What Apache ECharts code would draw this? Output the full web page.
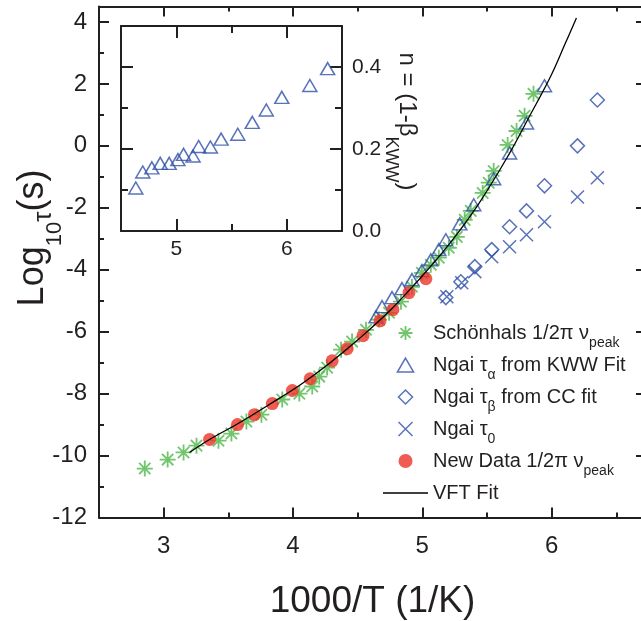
<!DOCTYPE html>
<html><head><meta charset="utf-8">
<script src="https://cdn.jsdelivr.net/npm/echarts@6/dist/echarts.min.js"></script>
<style>html,body{margin:0;padding:0;background:#fff}#c{width:641px;height:621px}</style>
</head><body><div id="c"></div>
<script>
// ---- data ----
const schonhalsX = [2.854,3.031,3.154,3.254,3.424,3.524,3.640,3.756,3.917,4.049,4.149,4.203,4.264,4.372,4.457,4.565,4.665,4.743,4.835,4.920,4.997,5.066,5.128,5.205,5.267,5.328,5.375,5.467,5.514,5.552,5.660,5.729,5.791,5.860];
const schonhalsY = [-10.42,-10.13,-9.90,-9.68,-9.52,-9.29,-8.90,-8.68,-8.19,-8.00,-7.77,-7.45,-7.16,-6.58,-6.32,-5.94,-5.61,-5.39,-5.03,-4.55,-4.10,-3.84,-3.61,-3.29,-2.94,-2.39,-2.10,-1.52,-1.19,-0.81,0.03,0.48,0.97,1.68];
const kwwX = [4.642,4.689,4.766,4.843,4.920,4.997,5.066,5.128,5.182,5.290,5.398,5.552,5.675,5.806,5.945];
const kwwY = [-5.52,-5.19,-4.90,-4.61,-4.32,-4.03,-3.68,-3.35,-3.03,-2.52,-1.90,-1.06,-0.23,0.74,1.94];
const ccX = [5.182,5.298,5.406,5.537,5.675,5.806,5.945,6.200,6.354];
const ccY = [-4.90,-4.39,-3.90,-3.35,-2.61,-2.10,-1.29,0.00,1.48];
const tau0X = [5.190,5.305,5.406,5.537,5.675,5.806,5.945,6.200,6.354];
const tau0Y = [-4.87,-4.42,-4.06,-3.58,-3.26,-2.87,-2.45,-1.65,-1.03];
const newX = [3.355,3.571,3.702,3.840,3.995,4.133,4.303,4.419,4.542,4.673,4.773,4.897,5.028];
const newY = [-9.48,-9.00,-8.68,-8.32,-7.90,-7.52,-6.94,-6.55,-6.13,-5.65,-5.29,-4.74,-4.29];
const vftX = [3.200,3.355,3.586,3.817,4.049,4.280,4.511,4.742,4.974,5.205,5.436,5.668,5.822,5.991,6.107,6.192];
const vftY = [-9.90,-9.48,-8.94,-8.35,-7.74,-7.03,-6.23,-5.35,-4.32,-3.19,-1.87,-0.29,0.90,2.23,3.32,4.13];
const insetX = [4.634,4.697,4.779,4.855,4.936,5.015,5.066,5.152,5.203,5.309,5.406,5.557,5.688,5.815,5.955,6.209,6.370];
const insetY = [0.105,0.144,0.154,0.165,0.165,0.174,0.187,0.183,0.206,0.205,0.224,0.236,0.265,0.295,0.326,0.355,0.396];
const seriesNames = ['Schönhals','NgaiKWW','NgaiCC','Ngai0','NewData','VFT'];
const legendLabels = {
  'Schönhals': 'Schönhals 1/2π ν{s|peak}',
  'NgaiKWW': 'Ngai τ{s|α} from KWW Fit',
  'NgaiCC': 'Ngai τ{s|β} from CC fit',
  'Ngai0': 'Ngai τ{s|0}',
  'NewData': 'New Data 1/2π ν{s|peak}',
  'VFT': 'VFT Fit'
};

const zip = (a, b) => a.map((v, i) => [v, b[i]]);
const FF = '"Liberation Sans", Arial, Helvetica, sans-serif';
const INK = '#231f20';
const GREEN = '#4db748';
const BLUE = '#3050a6';
const RED = '#ec3325';
const P_AST = 'path://M0,5L10,5M5,0L5,10M1.46,1.46L8.54,8.54M8.54,1.46L1.46,8.54';
const P_X = 'path://M0,0L10,10M10,0L0,10';
const P_TRI = 'path://M5,0L10,8.66L0,8.66Z';
const P_DIA = 'path://M5,0L10,5L5,10L0,5Z';
const P_LINE = 'path://M0,0L36,0L36,1.05L0,1.05Z';

function axisCommon(tickLen, minorLen) {
  return {
    nameMoveOverlap: false,
    axisLine: { show: true, onZero: false, lineStyle: { color: INK, width: 2 } },
    axisTick: { show: true, inside: true, length: tickLen, lineStyle: { color: INK, width: 2 } },
    minorTick: { show: true, splitNumber: 2, length: minorLen, lineStyle: { color: INK, width: 2 } },
    splitLine: { show: false }, minorSplitLine: { show: false }
  };
}

const chart = echarts.init(document.getElementById('c'), null, { renderer: 'canvas' });
const mainXBase = { type: 'value', gridIndex: 0, min: 2.5, max: 6.73, splitNumber: 4, minInterval: 1, maxInterval: 1 };
const mainYBase = { type: 'value', gridIndex: 0, min: -12, max: 4.5, splitNumber: 8, minInterval: 2, maxInterval: 2 };
const inXBase = { type: 'value', gridIndex: 1, min: 4.5, max: 6.5, splitNumber: 2, minInterval: 1, maxInterval: 1 };
const inYBase = { type: 'value', gridIndex: 1, min: 0, max: 0.5, splitNumber: 3, minInterval: 0.2, maxInterval: 0.2 };

const option = {
  animation: false,
  backgroundColor: '#ffffff',
  grid: [
    { left: 99, top: 6.5, width: 547, height: 511, containLabel: false, outerBoundsMode: 'none' },
    { left: 121, top: 26, width: 221, height: 205, containLabel: false, outerBoundsMode: 'none' }
  ],
  xAxis: [
    Object.assign({}, mainXBase, axisCommon(10, 5), {
      position: 'bottom',
      axisLabel: { show: true, margin: 17, fontSize: 24, color: INK, fontFamily: FF, showMinLabel: false, showMaxLabel: false },
      name: '1000/T (1/K)', nameLocation: 'middle', nameGap: 66,
      nameTextStyle: { fontSize: 37, color: INK, fontFamily: FF }
    }),
    Object.assign({}, mainXBase, axisCommon(10, 5), { position: 'top', axisLabel: { show: false } }),
    Object.assign({}, inXBase, axisCommon(12, 7), {
      position: 'bottom',
      axisLabel: { show: true, margin: 8, fontSize: 21, color: INK, fontFamily: FF, showMinLabel: false, showMaxLabel: false }
    }),
    Object.assign({}, inXBase, axisCommon(12, 7), { position: 'top', axisLabel: { show: false } })
  ],
  yAxis: [
    Object.assign({}, mainYBase, axisCommon(10, 5), {
      position: 'left',
      axisLabel: { show: true, margin: 12, fontSize: 24, color: INK, fontFamily: FF, showMaxLabel: false },
      name: '{t|Log}{s|10}{g|τ}{t|(s)}', nameLocation: 'middle', nameRotate: 90, nameGap: 33,
      nameTextStyle: {
        color: INK, fontFamily: FF, fontSize: 36, padding: [0, 0, 0, 48],
        rich: {
          t: { fontSize: 36, lineHeight: 65, verticalAlign: 'middle', fontFamily: FF, color: INK },
          s: { fontSize: 22, lineHeight: 22, verticalAlign: 'bottom', fontFamily: FF, color: INK },
          g: { fontSize: 26, lineHeight: 26, verticalAlign: 'bottom', padding: [0, 0, 9, 0], fontFamily: FF, color: INK }
        }
      }
    }),
    Object.assign({}, mainYBase, axisCommon(10, 5), { position: 'right', axisLabel: { show: false } }),
    Object.assign({}, inYBase, axisCommon(12, 7), {
      position: 'right',
      axisLabel: { show: true, margin: 10, fontSize: 21, color: INK, fontFamily: FF, showMaxLabel: false,
        formatter: v => v.toFixed(1) },
      name: '{t|n = (1-β}{s|KWW}{t|)}', nameLocation: 'middle', nameRotate: -90, nameGap: 40,
      nameTextStyle: {
        color: INK, fontFamily: FF, fontSize: 24, padding: [0, 14, 0, 0],
        rich: {
          t: { fontSize: 24, lineHeight: 50, verticalAlign: 'middle', fontFamily: FF, color: INK },
          s: { fontSize: 18, lineHeight: 18, verticalAlign: 'bottom', fontFamily: FF, color: INK }
        }
      }
    }),
    Object.assign({}, inYBase, axisCommon(12, 7), { position: 'left', axisLabel: { show: false } })
  ],
  legend: {
    orient: 'vertical', left: 383, top: 316, padding: 0,
    itemWidth: 45, itemHeight: 14, itemGap: -2, selectedMode: false,
    formatter: name => legendLabels[name],
    textStyle: {
      fontSize: 20, color: INK, fontFamily: FF, lineHeight: 34,
      rich: { s: { fontSize: 14, lineHeight: 14, verticalAlign: 'bottom', fontFamily: FF, color: INK } }
    },
    data: [
      { name: seriesNames[0], icon: P_AST, itemStyle: { color: 'transparent', borderColor: GREEN, borderWidth: 1.8 } },
      { name: seriesNames[1], icon: P_TRI, itemStyle: { color: 'transparent', borderColor: BLUE, borderWidth: 1.5 } },
      { name: seriesNames[2], icon: P_DIA, itemStyle: { color: 'transparent', borderColor: BLUE, borderWidth: 1.5 } },
      { name: seriesNames[3], icon: P_X, itemStyle: { color: 'transparent', borderColor: BLUE, borderWidth: 1.5 } },
      { name: seriesNames[4], icon: 'circle', itemStyle: { color: RED, borderWidth: 0 } },
      { name: seriesNames[5], icon: P_LINE, itemStyle: { color: '#000', borderWidth: 0 } }
    ]
  },
  series: [
    { name: seriesNames[0], type: 'scatter', xAxisIndex: 0, yAxisIndex: 0, data: zip(schonhalsX, schonhalsY),
      symbol: P_AST, symbolSize: 16, itemStyle: { color: 'transparent', borderColor: GREEN, borderWidth: 1.8 } },
    { name: seriesNames[1], type: 'scatter', xAxisIndex: 0, yAxisIndex: 0, data: zip(kwwX, kwwY),
      symbol: 'triangle', symbolSize: [14, 12], itemStyle: { color: 'transparent', borderColor: BLUE, borderWidth: 1.5 } },
    { name: seriesNames[2], type: 'scatter', xAxisIndex: 0, yAxisIndex: 0, data: zip(ccX, ccY),
      symbol: 'diamond', symbolSize: 14, itemStyle: { color: 'transparent', borderColor: BLUE, borderWidth: 1.5 } },
    { name: seriesNames[3], type: 'scatter', xAxisIndex: 0, yAxisIndex: 0, data: zip(tau0X, tau0Y),
      symbol: P_X, symbolSize: 13, itemStyle: { color: 'transparent', borderColor: BLUE, borderWidth: 1.5 } },
    { name: seriesNames[4], type: 'scatter', xAxisIndex: 0, yAxisIndex: 0, data: zip(newX, newY),
      symbol: 'circle', symbolSize: 13, itemStyle: { color: RED, borderWidth: 0 } },
    { name: seriesNames[5], type: 'line', xAxisIndex: 0, yAxisIndex: 0, data: zip(vftX, vftY),
      symbol: 'none', smooth: 0.4, lineStyle: { color: '#000', width: 1.3 }, itemStyle: { color: '#000' } },
    { name: 'inset', type: 'scatter', xAxisIndex: 2, yAxisIndex: 2, data: zip(insetX, insetY),
      symbol: 'triangle', symbolSize: [14, 12], itemStyle: { color: 'transparent', borderColor: BLUE, borderWidth: 1.5 } }
  ]
};
chart.setOption(option);
</script>
</body></html>
